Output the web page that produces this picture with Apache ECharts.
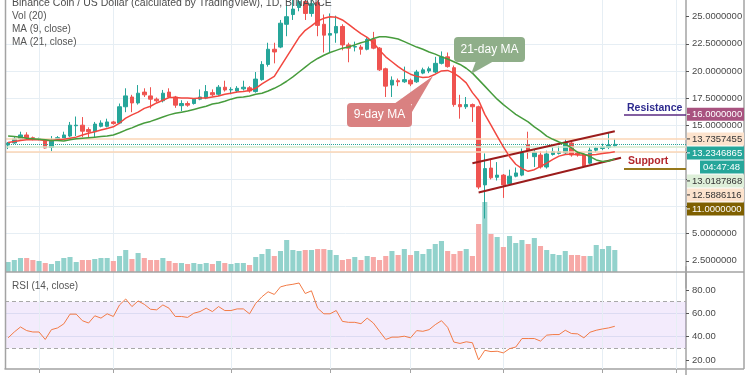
<!DOCTYPE html>
<html>
<head>
<meta charset="utf-8">
<script src="https://cdn.jsdelivr.net/npm/echarts@6.0.0/dist/echarts.min.js"></script>
<style>
html,body{margin:0;padding:0;background:#ffffff;}
#chart{width:750px;height:375px;}
</style>
</head>
<body>
<div id="chart"></div>
<script>
// ---------------- DATA ----------------
const startDate = '2019-12-27';
const slotCount = 110; // 99 daily candles + empty future slots
const tickDates = ['2020-01-01','2020-01-13','2020-02-01','2020-02-17','2020-03-01','2020-03-16','2020-04-01','2020-04-13'];

const opens = [13.17,13.36,13.73,14.1,13.85,13.7,13.6,12.95,13.7,13.8,
  14.0,14.95,15.0,14.6,14.4,14.9,14.9,15.3,15.2,16.7,
  17.6,17.05,18.05,17.7,17.4,17.25,18.05,17.6,16.8,17.0,
  17.0,17.4,17.5,18.0,17.85,18.5,18.25,18.15,18.35,18.45,
  18.1,19.2,20.6,22.0,22.2,24.3,25.2,25.85,26.4,25.3,
  26.3,24.3,23.3,23.5,24.1,22.4,22.2,22.2,22.0,22.9,
  22.1,20.2,18.7,19.1,19.0,19.15,19.0,19.8,20.0,19.9,
  20.7,21.3,20.3,16.9,16.7,16.9,16.7,9.5,11.05,10.2,
  10.4,9.6,10.3,10.4,13.2,12.1,12.25,11.15,12.3,12.4,
  12.45,13.35,12.45,12.3,11.5,12.7,12.85,12.95,13.1];
const closes = [13.36,13.73,14.1,13.8,13.7,13.75,12.9,13.6,13.85,14.1,
  15.0,15.0,14.45,14.4,15.1,15.2,15.3,15.15,16.7,17.7,
  17.05,17.95,17.8,17.4,17.25,17.95,17.6,16.85,17.0,16.85,
  17.4,17.6,18.1,17.8,18.5,18.25,18.3,18.4,18.5,18.15,
  19.25,20.6,22.0,21.75,24.4,25.0,25.7,26.4,25.3,26.2,
  24.2,23.3,23.45,24.1,22.4,22.1,22.25,22.0,22.9,22.1,
  20.1,18.6,19.15,19.0,19.2,18.8,19.9,20.1,20.2,20.7,
  21.3,20.4,16.9,16.7,16.9,16.7,9.3,11.0,10.15,10.4,
  9.5,10.3,10.6,12.5,12.7,12.5,11.15,12.35,12.55,12.55,
  13.35,12.25,12.3,11.25,12.7,12.9,13.0,13.15,13.2346865];
const lows = [12.8,13.3,13.65,13.75,13.6,13.6,12.85,12.6,13.6,13.7,
  13.9,14.0,13.9,13.9,13.9,14.8,14.8,15.05,15.1,16.2,
  16.2,16.9,17.6,16.55,17.1,17.1,17.5,16.6,16.3,16.7,
  16.9,17.3,17.4,17.65,17.7,18.1,17.85,18.0,18.2,18.0,
  18.0,19.1,20.4,20.7,22.1,23.2,24.7,25.5,24.7,25.0,
  23.2,21.7,21.65,22.6,21.9,20.8,21.8,21.5,21.9,22.0,
  20.0,17.6,17.6,18.6,18.9,18.6,18.9,19.7,19.8,19.8,
  20.6,20.3,16.7,15.6,16.5,15.3,9.1,6.4,10.0,9.9,
  8.3,9.5,10.2,10.3,11.9,11.15,11.0,11.0,12.2,12.3,
  12.35,12.1,12.1,11.1,11.4,12.5,12.7,12.8,13.0];
const highs = [13.45,13.9,14.4,14.35,13.95,13.85,13.7,14.0,14.0,14.4,
  15.3,15.8,15.75,14.8,15.3,15.45,15.6,15.4,17.0,18.4,
  17.8,18.7,18.4,18.5,17.55,18.25,18.4,17.7,17.3,17.2,
  17.5,18.3,18.7,18.3,18.7,19.1,18.5,18.6,19.1,18.6,
  19.9,20.9,22.6,22.6,24.7,26.0,26.7,26.9,26.7,26.8,
  26.5,25.2,25.3,25.1,24.3,22.6,22.7,22.4,23.1,23.6,
  22.2,20.3,19.5,19.3,20.4,19.3,20.1,20.3,20.4,21.3,
  21.8,21.7,20.5,17.8,17.6,17.0,16.8,12.4,11.85,11.6,
  10.5,10.9,11.1,12.85,14.4,12.7,12.6,12.65,12.95,13.1,
  13.7,13.5,12.6,12.4,13.0,13.0,13.3,14.3,13.75];
const volumes = [250,300,350,350,300,275,225,200,275,350,
  375,250,300,300,325,350,350,275,400,550,
  325,475,350,300,300,350,275,225,225,200,
  225,200,225,200,275,225,200,225,225,175,
  375,450,575,400,525,800,550,525,550,550,
  575,575,550,425,300,325,375,300,400,375,
  300,400,525,425,575,425,525,450,575,700,
  775,525,450,525,575,400,1200,1750,950,875,
  625,900,725,800,700,850,650,550,450,425,
  525,425,425,400,400,675,575,650,550];
const ma9 = [13.4,13.5,13.6,13.65,13.65,13.65,13.6,13.6,13.65,13.7,
  13.8,13.9,14.1,14.25,14.4,14.55,14.7,14.85,15.2,15.65,
  15.95,16.2,16.55,16.75,17.05,17.3,17.55,17.55,17.5,17.5,
  17.45,17.5,17.5,17.6,17.7,17.85,17.95,18.05,18.1,18.2,
  18.4,18.8,19.15,19.5,20.4,21.3,22.2,23.1,23.75,24.15,
  24.6,24.85,25.0,24.95,24.7,24.3,23.85,23.45,23.1,22.6,
  21.9,21.3,20.85,20.4,20.0,19.7,19.5,19.4,19.45,19.7,
  20.0,20.05,19.8,19.4,18.9,18.0,17.3,16.0,15.0,14.0,
  13.0,12.1,11.4,11.0,10.75,10.9,11.2,11.5,11.85,12.15,
  12.3,12.35,12.25,12.25,12.25,12.3,12.4,12.45,12.55];
const ma21 = [14.0,13.95,13.9,13.8,13.75,13.7,13.65,13.6,13.6,13.55,
  13.65,13.75,13.8,13.85,13.9,13.95,14.0,14.1,14.3,14.55,
  14.75,15.0,15.2,15.35,15.55,15.75,15.95,16.1,16.2,16.3,
  16.45,16.6,16.75,16.95,17.05,17.2,17.4,17.55,17.6,17.7,
  17.85,17.95,18.15,18.4,18.7,19.05,19.45,19.9,20.35,20.8,
  21.15,21.45,21.7,21.9,22.1,22.2,22.4,22.6,22.75,23.0,
  23.15,23.15,23.05,22.95,22.7,22.45,22.2,22.0,21.75,21.55,
  21.3,21.1,20.85,20.6,20.25,19.8,19.2,18.6,18.0,17.4,
  16.9,16.45,16.0,15.65,15.3,14.85,14.45,14.0,13.7,13.45,
  13.25,12.9,12.5,12.35,12.1,11.8,11.65,11.7,11.9];
const rsi = [39.0,44.0,48.3,45.2,44.0,44.0,37.6,46.0,47.5,51.0,
  59.3,59.3,53.7,51.7,57.9,55.9,59.6,57.3,67.2,72.3,
  65.8,70.6,67.7,63.5,63.0,67.2,64.4,57.3,57.3,56.5,
  60.1,61.5,64.4,61.5,65.8,62.4,62.4,63.8,63.8,59.6,
  68.6,74.2,78.5,76.2,82.7,84.1,84.9,86.0,77.0,79.3,
  64.4,59.6,59.6,62.4,53.1,52.3,52.3,51.1,55.9,51.7,
  44.6,37.6,39.6,39.6,40.4,39.0,45.2,44.6,46.0,50.3,
  53.7,48.0,35.4,34.2,35.6,34.8,20.1,28.3,27.2,27.5,
  26.1,29.7,31.1,38.4,38.4,38.4,36.2,41.3,41.8,41.8,
  45.5,42.7,42.4,39.0,43.8,45.5,46.6,47.5,48.9];

const priceTicks = [2.5,5,7.5,10,12.5,15,17.5,20,22.5,25];
const rsiTicks = [20,40,60,80];
const rsiBand = [30,70];
const resistanceLevel = 16.0;
const supportLevel = 11.0;
const levelHigh = 13.7357455;
const lastPrice = 13.2346865;
const levelMid = 13.0187868;
const levelLow = 12.5886116;
const countdownText = '04:47:48';
const channelUpper = [[75,11.5],[98,14.45]];
const channelLower = [[76,8.8],[99,12.0]];

// ---------------- BUILD ----------------
function buildCategories(){
  const out=[]; const d=new Date(startDate+'T00:00:00Z');
  for(let i=0;i<slotCount;i++){ const c=new Date(d.getTime()+i*86400000); out.push(c.toISOString().slice(0,10)); }
  return out;
}
const categories = buildCategories();
const tickIdx = tickDates.map(t=>categories.indexOf(t));
const tickSet = new Set(tickIdx);
const ohlc = opens.map((o,i)=>[o,closes[i],lows[i],highs[i]]);
const UP='#26a69a', DOWN='#ef5350';
const volData = volumes.map((v,i)=>({value:v,itemStyle:{color: closes[i]>=opens[i] ? '#92d2cc' : '#f7a9a7'}}));
const FONT = "'Liberation Sans', Arial, sans-serif";
const GRIDC = '#e6eef4';

const chart = echarts.init(document.getElementById('chart'), null, {renderer:'canvas'});

const vGridMain = tickIdx.map(i=>[{xAxis:i, y:0, lineStyle:{color:GRIDC,width:1,type:'solid'}},{xAxis:i, y:272}]);
const vGridRsi = tickIdx.map(i=>[{xAxis:i, y:272, lineStyle:{color:GRIDC,width:1,type:'solid'}},{xAxis:i, y:369}]);

const option = {
  animation:false,
  textStyle:{fontFamily:FONT},
  grid:[
    {left:5, right:64, top:-10.425, bottom:87.05, outerBoundsMode:'none', containLabel:false},
    {left:5, right:64, top:0, height:272, outerBoundsMode:'none', containLabel:false},
    {left:5, right:64, top:266.667, bottom:-8.333, outerBoundsMode:'none', containLabel:false}
  ],
  xAxis:[
    {gridIndex:0, type:'category', data:categories, show:false},
    {gridIndex:1, type:'category', data:categories, show:false},
    {gridIndex:2, type:'category', data:categories, offset:-14.333,
      axisLine:{show:true, lineStyle:{color:'#a3a3a3', width:1.5}},
      axisTick:{show:true, alignWithLabel:true, interval:(i)=>tickSet.has(i), length:4, inside:false, lineStyle:{color:'#a3a3a3'}},
      axisLabel:{show:false}, splitLine:{show:false}}
  ],
  yAxis:[
    {gridIndex:0, type:'value', position:'right', min:0, max:27.5, interval:2.5,
      axisLine:{show:true, lineStyle:{color:'#a3a3a3', width:1.5}},
      axisTick:{show:true, length:3, customValues:priceTicks, lineStyle:{color:'#555'}},
      axisLabel:{customValues:priceTicks, color:'#4a4a4a', fontSize:9.5, fontFamily:FONT, margin:6,
        formatter:(v)=> (v<1||v>26) ? '' : Number(v).toFixed(7)},
      splitLine:{show:true, showMinLine:false, showMaxLine:false, lineStyle:{color:GRIDC, width:1}}},
    {gridIndex:1, type:'value', min:0, max:6800, show:false, splitLine:{show:false}},
    {gridIndex:2, type:'value', position:'right', min:0, max:100, interval:20,
      axisLine:{show:true, lineStyle:{color:'#a3a3a3', width:1.5}},
      axisTick:{show:true, length:3, customValues:rsiTicks, lineStyle:{color:'#555'}},
      axisLabel:{customValues:rsiTicks, color:'#4a4a4a', fontSize:9.5, fontFamily:FONT, margin:6,
        formatter:(v)=> (v<10||v>90) ? '' : Number(v).toFixed(2)},
      splitLine:{show:true, showMinLine:false, showMaxLine:false, lineStyle:{color:GRIDC, width:1}}}
  ],
  series:[
    {type:'bar', name:'Vol', xAxisIndex:1, yAxisIndex:1, data:volData, barCategoryGap:'18%', z:1, silent:true},
    {type:'candlestick', name:'BNBUSD', xAxisIndex:0, yAxisIndex:0, data:ohlc, barWidth:4, z:3,
      itemStyle:{color:UP, color0:DOWN, borderColor:UP, borderColor0:DOWN, borderWidth:1},
      markLine:{symbol:['none','none'], silent:true, label:{show:false}, z:4,
        data:[
          {yAxis:levelHigh, lineStyle:{color:'#fbd6b6', width:1.5, type:'solid'}},
          {yAxis:levelMid, lineStyle:{color:'#d3e9cd', width:1.5, type:'solid'}},
          {yAxis:levelLow, lineStyle:{color:'#fbd6b6', width:1.5, type:'solid'}},
          {yAxis:lastPrice, lineStyle:{color:'#26a69a', width:1, type:'dotted'}},
          [{xAxis:channelUpper[0][0], yAxis:channelUpper[0][1], lineStyle:{color:'#9b1c1c', width:2, type:'solid'}},{xAxis:channelUpper[1][0], yAxis:channelUpper[1][1]}],
          [{xAxis:channelLower[0][0], yAxis:channelLower[0][1], lineStyle:{color:'#9b1c1c', width:2, type:'solid'}},{xAxis:channelLower[1][0], yAxis:channelLower[1][1]}],
          [{x:624, yAxis:resistanceLevel, lineStyle:{color:'#5a2a82', width:1.5, type:'solid'}},{x:686, yAxis:resistanceLevel}],
          [{x:624, yAxis:supportLevel, lineStyle:{color:'#96781c', width:2, type:'solid'}},{x:686, yAxis:supportLevel}]
        ]}
    },
    {type:'line', name:'MA9', xAxisIndex:0, yAxisIndex:0, data:ma9, symbol:'none', z:4,
      lineStyle:{color:'#f2473f', width:1.5}},
    {type:'line', name:'MA21', xAxisIndex:0, yAxisIndex:0, data:ma21, symbol:'none', z:4,
      lineStyle:{color:'#479c3d', width:1.5},
      markLine:{symbol:['none','none'], silent:true, label:{show:false}, z:0, data:vGridMain}},
    {type:'line', name:'RSI', xAxisIndex:2, yAxisIndex:2, data:rsi, symbol:'none', z:4,
      lineStyle:{color:'#f27a45', width:1},
      markArea:{silent:true, itemStyle:{color:'rgba(150,70,230,0.11)'}, data:[[{yAxis:rsiBand[0]},{yAxis:rsiBand[1]}]]},
      markLine:{symbol:['none','none'], silent:true, label:{show:false}, z:1,
        data:[
          {yAxis:rsiBand[0], lineStyle:{color:'#a8a8a8', width:1, type:[4,3]}},
          {yAxis:rsiBand[1], lineStyle:{color:'#a8a8a8', width:1, type:[4,3]}}
        ].concat(vGridRsi)}
    }
  ]
};
chart.setOption(option);

// ---------- annotations / tags ----------
function txt(x,y,text,size,color,extra){
  return Object.assign({type:'text', x:x, y:y, z:100, silent:true,
    style:Object.assign({text:text, fill:color, fontSize:size, fontFamily:FONT, verticalAlign:'middle', align:'left'}, extra||{})});
}
const G = [];
// pane borders
const BC='#a3a3a3';
G.push({type:'line', z:90, silent:true, shape:{x1:5.5,y1:0,x2:5.5,y2:369}, style:{stroke:BC, lineWidth:1.5}});
G.push({type:'line', z:90, silent:true, shape:{x1:744,y1:0,x2:744,y2:369}, style:{stroke:BC, lineWidth:1.5}});
G.push({type:'line', z:90, silent:true, shape:{x1:5,y1:272,x2:744,y2:272}, style:{stroke:BC, lineWidth:1.5}});
G.push({type:'line', z:90, silent:true, shape:{x1:686,y1:369,x2:744,y2:369}, style:{stroke:BC, lineWidth:1.5}});
// legends
G.push(txt(12,3,'Binance Coin / US Dollar (calculated by TradingView), 1D, BINANCE',10.5,'#4d4d4d'));
G.push(txt(12,16,'Vol (20)',10,'#555'));
G.push(txt(12,29,'MA (9, close)',10,'#555'));
G.push(txt(12,42,'MA (21, close)',10,'#555'));
G.push(txt(12,286,'RSI (14, close)',10,'#555'));
// callouts
G.push({type:'polygon', z:95, silent:true, shape:{points:[[394,104],[412,104],[412,112],[433,76]]}, style:{fill:'#d98181'}});
G.push({type:'rect', z:95, silent:true, shape:{x:347,y:103,width:65,height:24,r:4}, style:{fill:'#d98181'}});
G.push(txt(379.5,115,'9-day MA',12,'#ffffff',{align:'center'}));
G.push({type:'polygon', z:95, silent:true, shape:{points:[[476,61],[494,61],[471,74]]}, style:{fill:'#8fae89'}});
G.push({type:'rect', z:95, silent:true, shape:{x:454,y:37,width:71,height:25,r:4}, style:{fill:'#8fae89'}});
G.push(txt(489.5,49.5,'21-day MA',12,'#ffffff',{align:'center'}));
// resistance/support labels
const yRes = chart.convertToPixel({yAxisIndex:0}, resistanceLevel);
const ySup = chart.convertToPixel({yAxisIndex:0}, supportLevel);
G.push(txt(627,yRes-6.5,'Resistance',10.5,'#2e2b8f',{fontWeight:'bold'}));
G.push(txt(628,ySup-7.5,'Support',10.5,'#b3262c',{fontWeight:'bold'}));
// price tags on the axis, stacked like TradingView
const tagRows = [
  {value:resistanceLevel, text:resistanceLevel.toFixed(7), bg:'#a8527f', fg:'#ffffff'},
  {value:levelHigh, text:levelHigh.toFixed(7), bg:'#fde3cd', fg:'#333333'},
  {value:lastPrice, text:lastPrice.toFixed(7), bg:'#26a69a', fg:'#ffffff'},
  {value:null, text:countdownText, bg:'#26a69a', fg:'#ffffff', x0:700},
  {value:levelMid, text:levelMid.toFixed(7), bg:'#deefd9', fg:'#333333'},
  {value:levelLow, text:levelLow.toFixed(7), bg:'#fde3cd', fg:'#333333'},
  {value:supportLevel, text:supportLevel.toFixed(7), bg:'#7f6000', fg:'#ffffff'}
];
let prev = -1e9;
tagRows.forEach(t=>{
  let y = t.value==null ? prev+14 : chart.convertToPixel({yAxisIndex:0}, t.value);
  y = Math.max(y, prev+14); prev = y;
  const x0 = t.x0 || 687;
  G.push({type:'rect', z:100, silent:true, shape:{x:x0, y:y-6.5, width:744-x0, height:13}, style:{fill:t.bg}});
  if(!t.x0) G.push({type:'line', z:101, silent:true, shape:{x1:687,y1:y,x2:690,y2:y}, style:{stroke:t.fg, lineWidth:1}});
  G.push(txt(t.x0 ? 703 : 692, y, t.text, 9.5, t.fg));
});
chart.setOption({graphic:G});
</script>
</body>
</html>
